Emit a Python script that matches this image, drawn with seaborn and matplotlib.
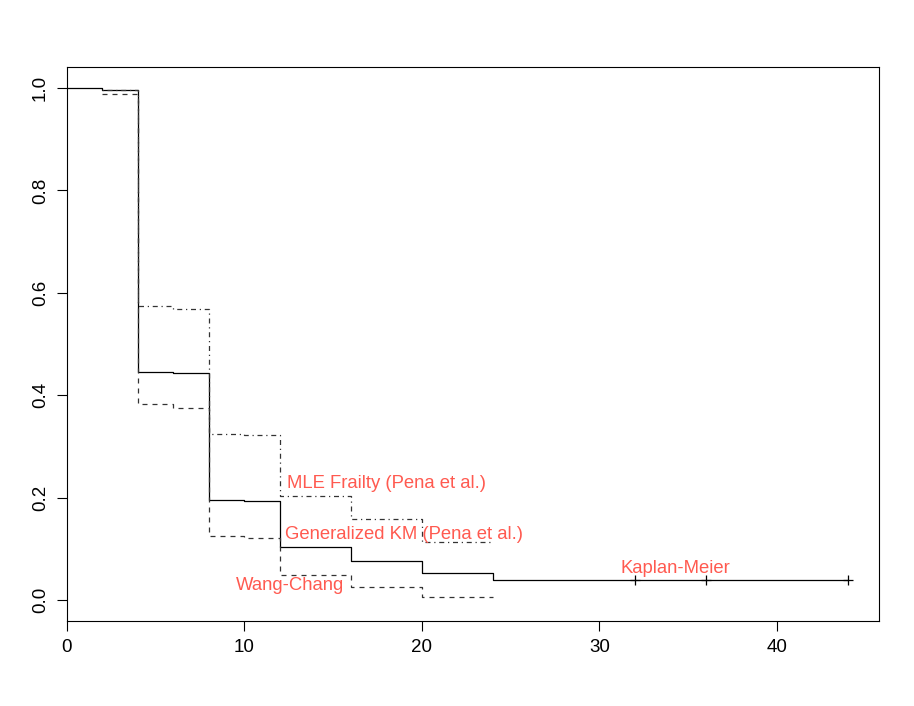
import pandas as pd
import matplotlib
matplotlib.use("Agg")
import matplotlib.pyplot as plt
import seaborn as sns

# Survival step curves
km_time = [0, 2, 4, 6, 8, 10, 12, 16, 20, 24, 44]
km_surv = [1.0, 0.996, 0.446, 0.443, 0.195, 0.193, 0.104, 0.076, 0.053, 0.039, 0.039]
km_censor_time = [32, 36, 44]
km_censor_surv = [0.039, 0.039, 0.039]

wc_time = [2, 4, 6, 8, 10, 12, 16, 20, 24]
wc_surv = [0.988, 0.383, 0.375, 0.125, 0.121, 0.049, 0.025, 0.006, 0.006]

mle_time = [2, 4, 6, 8, 10, 12, 16, 20, 24]
mle_surv = [0.996, 0.574, 0.569, 0.325, 0.322, 0.204, 0.158, 0.113, 0.113]

labels = ["MLE Frailty (Pena et al.)", "Generalized KM (Pena et al.)", "Wang-Chang", "Kaplan-Meier"]
label_x = [18.0, 19.0, 12.55, 34.3]
label_y = [0.228, 0.127, 0.029, 0.061]

sns.set_style("white")
plt.rcParams["font.family"] = ["Liberation Sans", "DejaVu Sans"]

fig = plt.figure(figsize=(9.14, 7.06), dpi=100)
ax = fig.add_axes([0.0733, 0.1204, 0.8884, 0.7847])

km = pd.DataFrame({"time": km_time, "surv": km_surv})
wc = pd.DataFrame({"time": wc_time, "surv": wc_surv})
mle = pd.DataFrame({"time": mle_time, "surv": mle_surv})

sns.lineplot(data=km, x="time", y="surv", ax=ax, color="black", lw=0.9,
             drawstyle="steps-post", estimator=None, sort=False)
sns.lineplot(data=wc, x="time", y="surv", ax=ax, color="#333333", lw=0.9,
             drawstyle="steps-post", estimator=None, sort=False, linestyle=(0, (4, 4)))
sns.lineplot(data=mle, x="time", y="surv", ax=ax, color="#333333", lw=0.9,
             drawstyle="steps-post", estimator=None, sort=False, linestyle=(0, (1, 3, 4, 3)))
sns.scatterplot(x=km_censor_time, y=km_censor_surv, ax=ax, marker="+", s=55,
                color="black", linewidth=0.9)

for txt, x, y in zip(labels, label_x, label_y):
    ax.text(x, y, txt, color="#ff5a50", fontsize=13.3, ha="center", va="center")

ax.set_xlim(0, 45.75)
ax.set_ylim(-0.041, 1.041)
ax.set_xticks([0, 10, 20, 30, 40])
ax.set_yticks([0.0, 0.2, 0.4, 0.6, 0.8, 1.0])
ax.set_yticklabels(["0.0", "0.2", "0.4", "0.6", "0.8", "1.0"], rotation=90, va="center")
ax.set_xlabel("")
ax.set_ylabel("")
ax.tick_params(axis="both", which="both", direction="out", length=7, width=0.8,
               labelsize=13.5, color="black", labelcolor="black",
               left=True, bottom=True, pad=6)
for s in ax.spines.values():
    s.set_color("black")
    s.set_linewidth(0.8)

fig.savefig("out.png", dpi=100)
